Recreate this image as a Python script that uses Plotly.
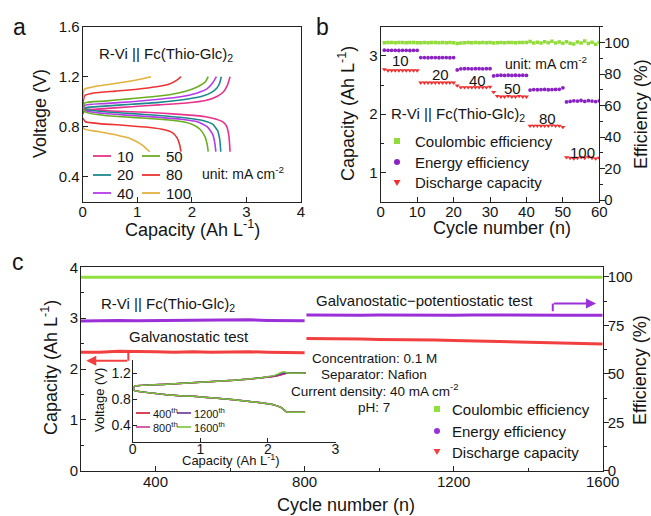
import plotly.graph_objects as go

FONT = "Arial, Liberation Sans, sans-serif"
W, H = 651, 516
TXT = "#151515"

# ---------------- panel a: charge/discharge profiles ----------------
a_labels = ["10", "20", "40", "50", "80", "100"]
a_colors = ["#e8338c", "#1c8a8c", "#b43ce8", "#6aae22", "#ec3434", "#e3b13e"]

a10_ch_cap = [0.0, 0.04, 0.4, 0.9, 1.4, 1.9, 2.25, 2.45, 2.58, 2.65, 2.70]
a10_ch_v = [0.90, 0.93, 0.945, 0.96, 0.975, 0.99, 1.01, 1.04, 1.08, 1.13, 1.20]
a10_dis_cap = [0.0, 0.04, 0.4, 0.9, 1.4, 1.9, 2.25, 2.45, 2.58, 2.64, 2.68, 2.70]
a10_dis_v = [0.97, 0.945, 0.93, 0.92, 0.91, 0.895, 0.88, 0.86, 0.835, 0.80, 0.72, 0.60]

a20_ch_cap = [0.0, 0.04, 0.4, 0.9, 1.4, 1.9, 2.2, 2.36, 2.46, 2.51, 2.54]
a20_ch_v = [0.92, 0.95, 0.965, 0.98, 0.995, 1.02, 1.045, 1.075, 1.11, 1.15, 1.20]
a20_dis_cap = [0.0, 0.04, 0.4, 0.9, 1.4, 1.9, 2.2, 2.38, 2.47, 2.51, 2.53]
a20_dis_v = [0.98, 0.94, 0.92, 0.905, 0.89, 0.87, 0.85, 0.82, 0.77, 0.70, 0.60]

a40_ch_cap = [0.0, 0.04, 0.4, 0.9, 1.4, 1.8, 2.1, 2.27, 2.38, 2.45]
a40_ch_v = [0.93, 0.97, 0.985, 1.0, 1.02, 1.04, 1.07, 1.10, 1.15, 1.20]
a40_dis_cap = [0.0, 0.04, 0.4, 0.9, 1.4, 1.8, 2.1, 2.28, 2.38, 2.42, 2.44]
a40_dis_v = [0.99, 0.93, 0.905, 0.89, 0.875, 0.86, 0.84, 0.80, 0.74, 0.67, 0.60]

a50_ch_cap = [0.0, 0.04, 0.4, 0.9, 1.4, 1.75, 2.0, 2.15, 2.25, 2.30]
a50_ch_v = [0.94, 0.99, 1.005, 1.025, 1.045, 1.07, 1.10, 1.13, 1.16, 1.20]
a50_dis_cap = [0.0, 0.04, 0.4, 0.9, 1.4, 1.75, 2.0, 2.15, 2.24, 2.28, 2.30]
a50_dis_v = [1.00, 0.92, 0.89, 0.875, 0.86, 0.845, 0.82, 0.78, 0.72, 0.66, 0.60]

a80_ch_cap = [0.0, 0.04, 0.2, 0.6, 1.0, 1.35, 1.58, 1.72, 1.80]
a80_ch_v = [0.98, 1.05, 1.07, 1.085, 1.10, 1.12, 1.14, 1.17, 1.20]
a80_dis_cap = [0.0, 0.05, 0.3, 0.8, 1.2, 1.5, 1.65, 1.73, 1.78, 1.80]
a80_dis_v = [0.87, 0.84, 0.825, 0.81, 0.795, 0.775, 0.75, 0.71, 0.65, 0.60]

a100_ch_cap = [0.0, 0.03, 0.2, 0.5, 0.8, 1.05, 1.25]
a100_ch_v = [1.02, 1.10, 1.12, 1.14, 1.16, 1.18, 1.20]
a100_dis_cap = [0.0, 0.03, 0.3, 0.6, 0.9, 1.1, 1.2, 1.23]
a100_dis_v = [0.80, 0.78, 0.76, 0.735, 0.70, 0.65, 0.61, 0.60]

a_curves = [
    (a10_ch_cap, a10_ch_v, a10_dis_cap, a10_dis_v),
    (a20_ch_cap, a20_ch_v, a20_dis_cap, a20_dis_v),
    (a40_ch_cap, a40_ch_v, a40_dis_cap, a40_dis_v),
    (a50_ch_cap, a50_ch_v, a50_dis_cap, a50_dis_v),
    (a80_ch_cap, a80_ch_v, a80_dis_cap, a80_dis_v),
    (a100_ch_cap, a100_ch_v, a100_dis_cap, a100_dis_v),
]

# ---------------- panel b: rate performance ----------------
b_cycles = list(range(1, 61))
b_ce = [99.8, 99.9, 99.9, 99.8, 99.9, 99.9, 99.8, 99.9, 99.9, 99.8,
        99.8, 99.9, 99.8, 99.9, 99.9, 99.8, 99.9, 99.8, 99.9, 99.8,
        99.3, 99.7, 99.8, 99.9, 99.8, 99.9, 99.8, 99.9, 99.8, 99.9,
        99.6, 99.8, 99.9, 99.8, 99.9, 99.9, 99.8, 99.9, 100.0, 99.9,
        100.6, 99.6, 100.2, 99.7, 100.5, 99.8, 100.7, 99.6, 100.3, 99.5,
        100.4, 99.5, 99.1, 100.3, 99.7, 100.9, 99.4, 100.2, 98.8, 100.0]
b_ee = [95.1, 95.0, 95.0, 95.0, 94.9, 95.0, 95.0, 94.9, 95.0, 95.0,
        90.4, 90.4, 90.3, 90.4, 90.4, 90.3, 90.4, 90.4, 90.3, 90.4,
        82.6, 83.3, 83.4, 83.4, 83.3, 83.4, 83.4, 83.3, 83.4, 83.4,
        78.8, 79.1, 79.2, 79.1, 79.2, 79.1, 79.2, 79.1, 79.2, 79.1,
        69.8, 70.1, 70.0, 70.1, 70.2, 70.0, 70.1, 70.2, 70.3, 71.2,
        62.3, 62.6, 63.0, 62.8, 63.2, 62.6, 63.1, 62.8, 62.5, 63.0]
b_dc = [2.77, 2.75, 2.75, 2.75, 2.75, 2.75, 2.75, 2.75, 2.75, 2.75,
        2.54, 2.54, 2.54, 2.54, 2.54, 2.54, 2.54, 2.54, 2.54, 2.54,
        2.49, 2.46, 2.46, 2.46, 2.46, 2.46, 2.46, 2.46, 2.46, 2.47,
        2.38, 2.31, 2.30, 2.30, 2.31, 2.30, 2.30, 2.31, 2.30, 2.30,
        1.80, 1.80, 1.80, 1.80, 1.80, 1.80, 1.81, 1.80, 1.80, 1.78,
        1.26, 1.25, 1.24, 1.25, 1.26, 1.25, 1.27, 1.25, 1.24, 1.25]
b_rate_labels = ["10", "20", "40", "50", "80", "100"]
b_names = ["Coulombic efficiency", "Energy efficiency", "Discharge capacity"]

# ---------------- panel c: long-term cycling ----------------
c_ce_cyc = [200, 250, 300, 350, 400, 450, 500, 550, 600, 650, 700, 750, 800,
            850, 900, 950, 1000, 1050, 1100, 1150, 1200, 1250, 1300, 1350,
            1400, 1450, 1500, 1550, 1600]
c_ce = [99.9, 99.8, 99.9, 99.9, 99.8, 99.9, 99.9, 99.8, 99.9, 99.9, 99.8,
        99.9, 99.9, 99.8, 99.9, 99.9, 99.8, 99.9, 99.9, 99.8, 99.9, 99.9,
        99.8, 99.9, 99.9, 99.8, 99.9, 99.9, 99.8]
c1_cyc = [200, 250, 300, 350, 400, 450, 500, 550, 600, 650, 700, 750, 800]
c1_ee = [77.3, 77.5, 77.6, 77.4, 77.5, 77.6, 77.4, 77.6, 77.7, 77.9, 77.6, 77.5, 77.4]
c1_dc = [2.33, 2.33, 2.35, 2.35, 2.34, 2.33, 2.34, 2.33, 2.34, 2.34, 2.33, 2.32, 2.32]
c2_cyc = [805, 850, 900, 950, 1000, 1050, 1100, 1150, 1200, 1250, 1300,
          1350, 1400, 1450, 1500, 1550, 1600]
c2_ee = [80.4, 80.3, 80.5, 80.3, 80.4, 80.3, 80.4, 80.3, 80.2, 80.4, 80.3,
         80.3, 80.2, 80.3, 80.2, 80.3, 80.2]
c2_dc = [2.60, 2.60, 2.60, 2.59, 2.58, 2.58, 2.57, 2.57, 2.56, 2.55, 2.54,
         2.53, 2.52, 2.51, 2.50, 2.49, 2.49]

# ---------------- inset: voltage profiles at selected cycles ----------------
ins_labels = ["400<sup>th</sup>", "800<sup>th</sup>", "1200<sup>th</sup>", "1600<sup>th</sup>"]
ins_colors = ["#d0142c", "#c8388c", "#6a2c9a", "#78c43a"]
i400_ch_cap = [0.0, 0.03, 0.5, 1.0, 1.5, 1.9, 2.1, 2.22, 2.28, 2.56]
i400_ch_v = [0.93, 1.0, 1.03, 1.06, 1.09, 1.125, 1.15, 1.18, 1.2, 1.2]
i400_dis_cap = [0.0, 0.03, 0.5, 1.0, 1.5, 1.9, 2.1, 2.2, 2.27, 2.32, 2.55]
i400_dis_v = [0.97, 0.93, 0.87, 0.835, 0.79, 0.745, 0.71, 0.67, 0.61, 0.6, 0.6]
i800_ch_cap = [0.0, 0.03, 0.5, 1.0, 1.5, 1.9, 2.1, 2.22, 2.28, 2.56]
i800_ch_v = [0.93, 1.0, 1.03, 1.06, 1.09, 1.125, 1.15, 1.18, 1.2, 1.2]
i800_dis_cap = [0.0, 0.03, 0.5, 1.0, 1.5, 1.9, 2.1, 2.2, 2.27, 2.32, 2.55]
i800_dis_v = [0.97, 0.93, 0.87, 0.835, 0.79, 0.745, 0.71, 0.67, 0.61, 0.6, 0.6]
i1200_ch_cap = [0.0, 0.03, 0.5, 1.0, 1.5, 1.9, 2.1, 2.2, 2.25, 2.56]
i1200_ch_v = [0.93, 1.0, 1.03, 1.06, 1.09, 1.13, 1.16, 1.19, 1.2, 1.2]
i1200_dis_cap = [0.0, 0.03, 0.5, 1.0, 1.5, 1.9, 2.1, 2.2, 2.27, 2.32, 2.55]
i1200_dis_v = [0.97, 0.93, 0.87, 0.835, 0.79, 0.745, 0.71, 0.67, 0.61, 0.6, 0.6]
i1600_ch_cap = [0.0, 0.03, 0.5, 1.0, 1.5, 1.9, 2.1, 2.18, 2.24, 2.3, 2.56]
i1600_ch_v = [0.93, 1.0, 1.03, 1.06, 1.09, 1.13, 1.165, 1.2, 1.22, 1.2, 1.2]
i1600_dis_cap = [0.0, 0.03, 0.5, 1.0, 1.5, 1.9, 2.1, 2.2, 2.27, 2.32, 2.55]
i1600_dis_v = [0.97, 0.93, 0.87, 0.835, 0.79, 0.745, 0.71, 0.67, 0.61, 0.6, 0.6]
ins_curves = [
    (i400_ch_cap, i400_ch_v, i400_dis_cap, i400_dis_v),
    (i800_ch_cap, i800_ch_v, i800_dis_cap, i800_dis_v),
    (i1200_ch_cap, i1200_ch_v, i1200_dis_cap, i1200_dis_v),
    (i1600_ch_cap, i1600_ch_v, i1600_dis_cap, i1600_dis_v),
]

# colours
CE_B, EE_B, DC_B = "#92dc3a", "#8a22c4", "#f03030"
CE_C, EE_C, DC_C = "#90e040", "#9b30d9", "#f24040"


def px(x):
    return x / W


def py(y):
    return 1 - y / H


fig = go.Figure()

for lab, col, (cc, cv, dc, dv) in zip(a_labels, a_colors, a_curves):
    for xs, ys in ((cc, cv), (dc, dv)):
        fig.add_trace(go.Scatter(x=xs, y=ys, mode="lines", name=lab,
                                 line=dict(color=col, width=1.6, shape="spline", smoothing=0.5),
                                 xaxis="x", yaxis="y", hoverinfo="skip"))

fig.add_trace(go.Scatter(x=b_cycles, y=b_ce, mode="markers", name=b_names[0],
                         marker=dict(symbol="square", size=3.5, color=CE_B),
                         xaxis="x2", yaxis="y3"))
fig.add_trace(go.Scatter(x=b_cycles, y=b_ee, mode="markers", name=b_names[1],
                         marker=dict(symbol="circle", size=3.8, color=EE_B),
                         xaxis="x2", yaxis="y3"))
fig.add_trace(go.Scatter(x=b_cycles, y=b_dc, mode="markers", name=b_names[2],
                         marker=dict(symbol="triangle-down", size=4.5, color=DC_B),
                         xaxis="x2", yaxis="y2"))

fig.add_trace(go.Scatter(x=c_ce_cyc, y=c_ce, mode="lines", name=b_names[0],
                         line=dict(color=CE_C, width=3), xaxis="x3", yaxis="y5"))
for xs, ys in ((c1_cyc, c1_ee), (c2_cyc, c2_ee)):
    fig.add_trace(go.Scatter(x=xs, y=ys, mode="lines", name=b_names[1],
                             line=dict(color=EE_C, width=3), xaxis="x3", yaxis="y5"))
for xs, ys in ((c1_cyc, c1_dc), (c2_cyc, c2_dc)):
    fig.add_trace(go.Scatter(x=xs, y=ys, mode="lines", name=b_names[2],
                             line=dict(color=DC_C, width=3), xaxis="x3", yaxis="y4"))

for lab, col, (cc, cv, dc, dv) in zip(ins_labels, ins_colors, ins_curves):
    for xs, ys in ((cc, cv), (dc, dv)):
        fig.add_trace(go.Scatter(x=xs, y=ys, mode="lines", name=lab,
                                 line=dict(color=col, width=1.5, shape="spline", smoothing=0.4),
                                 xaxis="x4", yaxis="y6"))

tickfont = dict(family=FONT, size=15, color=TXT)
base = dict(showline=True, linecolor="#222", linewidth=1, ticks="inside", ticklen=5,
            tickwidth=1, tickcolor="#222", showgrid=False, zeroline=False,
            tickfont=tickfont, automargin=False)

yA = [py(201.7), py(26.7)]
yC = [py(470.7), py(267.3)]

fig.update_layout(
    width=W, height=H, margin=dict(l=0, r=0, t=0, b=0, autoexpand=False),
    paper_bgcolor="white", plot_bgcolor="rgba(0,0,0,0)", showlegend=False,
    font=dict(family=FONT, color=TXT),
    xaxis=dict(base, domain=[px(82.7), px(301)], range=[0, 4], dtick=1, tick0=0,
               anchor="y", mirror=True, ticklabelstandoff=-4),
    yaxis=dict(base, domain=yA, range=[0.2, 1.6], tickvals=[0.4, 0.8, 1.2, 1.6],
               anchor="x", mirror=True, ticklabelstandoff=-1),
    xaxis2=dict(base, domain=[px(380.7), px(599.3)], range=[0, 60], dtick=10, tick0=0,
                anchor="y2", mirror=True, ticklabelstandoff=-4),
    yaxis2=dict(base, domain=yA, range=[0.5, 3.5], tickvals=[1, 2, 3], anchor="x2",
                ticklabelstandoff=-1,
                minor=dict(tickmode="linear", tick0=0.5, dtick=0.5, ticks="inside",
                           ticklen=3, tickcolor="#222")),
    yaxis3=dict(base, overlaying="y2", side="right", anchor="x2", range=[-1, 110],
                tickvals=[0, 20, 40, 60, 80, 100], ticks="outside", ticklabelstandoff=-4,
                minor=dict(tickmode="linear", tick0=0, dtick=10, ticks="outside",
                           ticklen=3, tickcolor="#222")),
    xaxis3=dict(base, domain=[px(81), px(602.7)], range=[200, 1600], tick0=400, dtick=400,
                anchor="y4", mirror=True, ticklabelstandoff=-3,
                minor=dict(tickmode="linear", tick0=0, dtick=200, ticks="inside",
                           ticklen=3, tickcolor="#222")),
    yaxis4=dict(base, domain=yC, range=[0, 4], dtick=1, tick0=0, anchor="x3",
                ticklabelstandoff=-1,
                minor=dict(tickmode="linear", tick0=0, dtick=0.5, ticks="inside",
                           ticklen=3, tickcolor="#222")),
    yaxis5=dict(base, overlaying="y4", side="right", anchor="x3", range=[0, 105],
                tick0=0, dtick=25, ticks="outside", ticklabelstandoff=-4,
                minor=dict(tickmode="linear", tick0=0, dtick=12.5, ticks="outside",
                           ticklen=3, tickcolor="#222")),
    xaxis4=dict(base, domain=[px(132.7), px(335.5)], range=[0, 3], dtick=1, tick0=0,
                anchor="y6", ticklen=4, ticklabelstandoff=-6,
                tickfont=dict(family=FONT, size=14, color=TXT)),
    yaxis6=dict(base, domain=[py(441.7), py(360)], range=[0.15, 1.4],
                tickvals=[0.4, 0.8, 1.2], anchor="x4", ticklen=4, ticklabelstandoff=-2,
                tickfont=dict(family=FONT, size=14, color=TXT)),
)

ann = []


def text(t, x, y, size, xanchor="center", angle=0, color=TXT):
    ann.append(dict(text=t, x=px(x), y=py(y), xref="paper", yref="paper",
                    showarrow=False, xanchor=xanchor, yanchor="middle",
                    textangle=angle, font=dict(family=FONT, size=size, color=color)))


# panel letters
text("a", 19, 27, 23)
text("b", 322, 27, 23)
text("c", 18, 262, 23)

# axis titles
CAP = "Capacity (Ah L<sup>-1</sup>)"
text("Voltage (V)", 40, 114, 18, angle=-90)
text(CAP, 192, 228, 18)
text(CAP, 347, 114, 18, angle=-90)
text("Efficiency (%)", 641, 114, 18, angle=-90)
text("Cycle number (n)", 502, 228, 18)
text(CAP, 49, 368, 18, angle=-90)
text("Efficiency (%)", 640, 370, 18, angle=-90)
text("Cycle number (n)", 346, 505, 18)
text("Voltage (V)", 99, 400, 13, angle=-90)
text(CAP, 231, 460, 13)

RV = "R-Vi || Fc(Thio-Glc)<sub>2</sub>"
UNIT = "unit: mA cm<sup>-2</sup>"
text(RV, 166, 55, 15)
text(UNIT, 243, 173, 14)
text(UNIT, 546, 63, 14)
text(RV, 458, 115, 15)
b_lab_pos = [(400, 61), (441, 74), (477, 80), (512, 89), (547, 119), (582, 152)]
for lab, (x, y) in zip(b_rate_labels, b_lab_pos):
    text(lab, x, y, 15)

text(RV, 168, 304, 15)
text("Galvanostatic test", 189, 336, 15)
text("Galvanostatic\u2212potentiostatic test", 424, 300, 15)
for t, y in zip(["Concentration: 0.1 M", "Separator: Nafion",
                 "Current density: 40 mA cm<sup>-2</sup>", "pH: 7"],
                [358, 374, 390, 407]):
    text(t, 374, y, 13.5)

shapes = []

# panel a legend
a_leg_pos = [(93, 156), (93, 175), (93, 193), (142, 156), (142, 175), (142, 193)]
for lab, col, (x, y) in zip(a_labels, a_colors, a_leg_pos):
    shapes.append(dict(type="line", xref="paper", yref="paper", x0=px(x), x1=px(x + 18),
                       y0=py(y), y1=py(y), line=dict(color=col, width=1.8)))
    text(lab, x + 22, y, 15, xanchor="left")

# inset legend
i_leg_pos = [(136, 413), (136, 427), (177, 413), (177, 427)]
for lab, col, (x, y) in zip(ins_labels, ins_colors, i_leg_pos):
    shapes.append(dict(type="line", xref="paper", yref="paper", x0=px(x), x1=px(x + 14),
                       y0=py(y), y1=py(y), line=dict(color=col, width=1.6)))
    text(lab, x + 14.5, y, 11, xanchor="left")


def marker_shape(kind, x, y, col, r=3):
    if kind == "square":
        shapes.append(dict(type="rect", xref="paper", yref="paper", x0=px(x - r), x1=px(x + r),
                           y0=py(y + r), y1=py(y - r), fillcolor=col, line=dict(width=0)))
    elif kind == "circle":
        shapes.append(dict(type="circle", xref="paper", yref="paper", x0=px(x - r), x1=px(x + r),
                           y0=py(y + r), y1=py(y - r), fillcolor=col, line=dict(width=0)))
    else:
        path = "M %f,%f L %f,%f L %f,%f Z" % (px(x - r - 0.5), py(y - r), px(x + r + 0.5), py(y - r),
                                           px(x), py(y + r))
        shapes.append(dict(type="path", xref="paper", yref="paper", path=path,
                           fillcolor=col, line=dict(width=0)))


kinds = ["square", "circle", "tri"]
for nm, kind, col, y in zip(b_names, kinds, [CE_B, EE_B, DC_B], [141, 162, 183]):
    marker_shape(kind, 397, y, col)
    text(nm, 413, y, 15, xanchor="left")
for nm, kind, col, y in zip(b_names, kinds, [CE_C, EE_C, DC_C], [409, 431, 452]):
    marker_shape(kind, 437, y, col)
    text(nm, 450, y, 15, xanchor="left")

# bracket arrows in panel c
shapes.append(dict(type="line", xref="x3", yref="y4", x0=327, x1=327, y0=2.33, y1=2.16,
                   line=dict(color=DC_C, width=2)))
ann.append(dict(x=214, y=2.16, ax=328, ay=2.16, xref="x3", yref="y4", axref="x3", ayref="y4",
                showarrow=True, arrowhead=2, arrowsize=1, arrowwidth=2, arrowcolor=DC_C, text=""))
shapes.append(dict(type="line", xref="x3", yref="y5", x0=1466, x1=1466, y0=82.3, y1=86.3,
                   line=dict(color=EE_C, width=2)))
ann.append(dict(x=1582, y=86.3, ax=1465, ay=86.3, xref="x3", yref="y5", axref="x3", ayref="y5",
                showarrow=True, arrowhead=2, arrowsize=1, arrowwidth=2, arrowcolor=EE_C, text=""))

fig.update_layout(annotations=ann, shapes=shapes)
fig.write_html("out.html", config={"displayModeBar": False},
               post_script="document.body.style.margin='0px';document.body.style.overflow='hidden';")
